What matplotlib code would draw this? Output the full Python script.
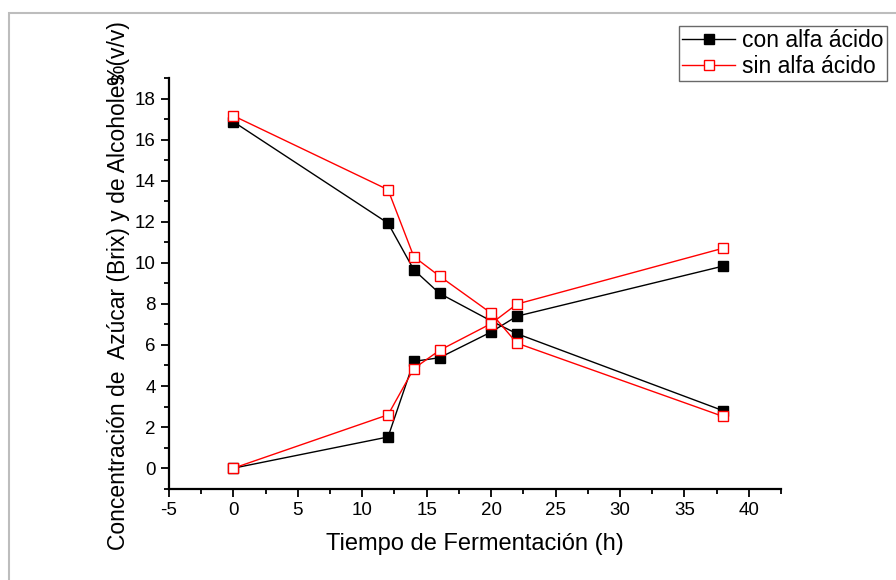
import matplotlib
matplotlib.use("Agg")
import matplotlib.pyplot as plt
from matplotlib.patches import Rectangle
from matplotlib.ticker import MultipleLocator

plt.rcParams['font.family'] = ['Liberation Sans', 'DejaVu Sans']
plt.rcParams['axes.unicode_minus'] = False

# datos
tiempo = [0, 12, 14, 16, 20, 22, 38]
azucar_con = [16.87, 11.93, 9.66, 8.51, 7.17, 6.55, 2.8]
alcohol_con = [0.0, 1.52, 5.2, 5.38, 6.63, 7.40, 9.84]
azucar_sin = [17.16, 13.56, 10.30, 9.35, 7.55, 6.09, 2.52]
alcohol_sin = [0.0, 2.6, 4.85, 5.74, 7.04, 7.99, 10.71]

fig = plt.figure(figsize=(8.96, 5.8), dpi=100)
ax = fig.add_axes([0.1886, 0.1574, 0.6831, 0.7081])

# marco gris alrededor de la figura
fig.patches.append(Rectangle((8.5 / 896, -0.05), 1.1, (580 - 12.5) / 580 + 0.05,
                             transform=fig.transFigure, fill=False,
                             edgecolor='#bdbdbd', linewidth=1.5))

estilo_con = dict(color='black', lw=1, marker='s', ms=7, mfc='black', mec='black')
estilo_sin = dict(color='red', lw=1, marker='s', ms=7, mfc='white', mec='red')

l1, = ax.plot(tiempo, azucar_con, **estilo_con)
ax.plot(tiempo, alcohol_con, **estilo_con)
l2, = ax.plot(tiempo, azucar_sin, **estilo_sin)
ax.plot(tiempo, alcohol_sin, **estilo_sin)

ax.set_xlim(-5, 42.5)
ax.set_ylim(-1, 19)
ax.xaxis.set_major_locator(MultipleLocator(5))
ax.xaxis.set_minor_locator(MultipleLocator(2.5))
ax.yaxis.set_major_locator(MultipleLocator(2))
ax.yaxis.set_minor_locator(MultipleLocator(1))

for s in ['top', 'right']:
    ax.spines[s].set_visible(False)
for s in ['left', 'bottom']:
    ax.spines[s].set_linewidth(1.6)
ax.tick_params(which='major', direction='out', length=6, width=1.3, labelsize=13.5)
ax.tick_params(which='minor', direction='out', length=3.5, width=1.3)

ax.set_xlabel('Tiempo de Fermentación (h)', fontsize=17, labelpad=10)

# etiqueta del eje y (el "%(v/v)" queda encima de "Alcoholes" como en el original)
fig.text(118 / 896, 30 / 580, 'Concentración de  Azúcar (Brix) y de Alcoholes',
         rotation=90, fontsize=16.5, ha='center', va='bottom')
fig.text(118 / 896, 1 - 20 / 580, '%(v/v)', rotation=90, fontsize=16.5,
         ha='center', va='top')

fig.legend([l1, l2], ['con alfa ácido', 'sin alfa ácido'],
           loc='upper right', bbox_to_anchor=(887 / 896, 1 - 26 / 580),
           fontsize=16.5, frameon=True, fancybox=False, edgecolor='#444444',
           borderpad=0.15, handlelength=2.3, handletextpad=0.3,
           labelspacing=0.1, borderaxespad=0)

fig.savefig('out.png', dpi=100)
